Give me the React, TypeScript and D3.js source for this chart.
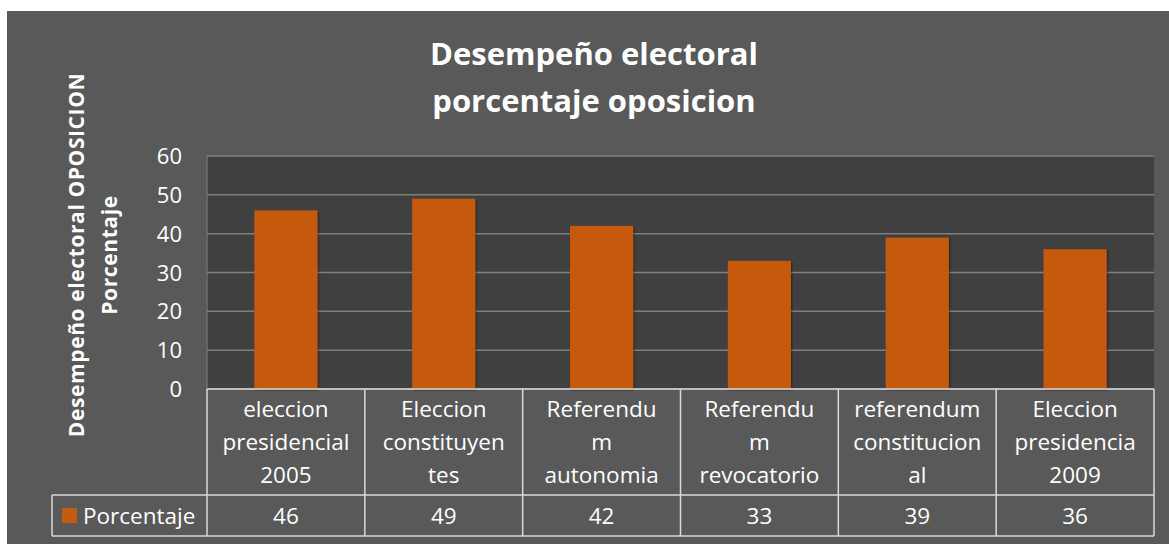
import React from "react";
import * as d3 from "d3";

const categories: string[][] = [
  ["eleccion", "presidencial", "2005"],
  ["Eleccion", "constituyen", "tes"],
  ["Referendu", "m", "autonomia"],
  ["Referendu", "m", "revocatorio"],
  ["referendum", "constitucion", "al"],
  ["Eleccion", "presidencia", "2009"],
];
const values: number[] = [46, 49, 42, 33, 39, 36];
const yTicks: number[] = [0, 10, 20, 30, 40, 50, 60];
const seriesName = "Porcentaje";
const titleLines = ["Desempeño electoral", "porcentaje oposicion"];
const yTitleLines = ["Desempeño electoral OPOSICION", "Porcentaje"];

const W = 1169;
const H = 544;
const font = "'Open Sans', Lato, sans-serif";

export default function App() {
  const left = 207;
  const right = 1154;
  const top = 156;
  const bottom = 389;
  const catRowBottom = 495;
  const valRowBottom = 536;
  const legendLeft = 52;

  const x = d3
    .scaleBand<number>()
    .domain(categories.map((_, i) => i))
    .range([left, right])
    .paddingInner(0)
    .paddingOuter(0);
  const y = d3.scaleLinear().domain([0, 60]).range([bottom, top]);
  const bw = x.bandwidth();
  const barW = bw * 0.4;

  const lineColor = "#d9d9d9";

  return (
    <div style={{ position: "fixed", left: 0, top: 0 }}>
      <svg width={W} height={H} style={{ display: "block" }}>
        <defs>
          <filter id="sh" x="-20%" y="-20%" width="140%" height="140%">
            <feDropShadow dx="1" dy="1" stdDeviation="1.2" floodColor="#000" floodOpacity="0.45" />
          </filter>
        </defs>
        <rect x={0} y={0} width={W} height={H} fill="#ffffff" />
        <rect x={7} y={11} width={W - 7} height={H - 11} fill="#595959" />
        <rect x={left} y={top} width={right - left} height={bottom - top} fill="#404040" />
        {yTicks.map((t) => (
          <line key={t} x1={left} x2={right} y1={y(t)} y2={y(t)} stroke="#7f7f7f" strokeWidth={1.5} />
        ))}
        <line x1={left} x2={left} y1={top} y2={bottom} stroke="#7f7f7f" strokeWidth={1} />
        {values.map((v, i) => (
          <rect
            key={i}
            x={(x(i) as number) + (bw - barW) / 2}
            y={y(v)}
            width={barW}
            height={y(0) - y(v)}
            fill="#c55a11"
            filter="url(#sh)"
          />
        ))}
        {yTicks.map((t) => (
          <text key={t} x={182} y={y(t) + 8} textAnchor="end" fill="#ffffff" fontFamily={font} fontSize={22}>
            {t}
          </text>
        ))}
        {/* Title */}
        {titleLines.map((l, i) => (
          <text
            key={i}
            x={594}
            y={65 + i * 47}
            textAnchor="middle"
            fill="#ffffff"
            fontFamily={font}
            fontWeight="bold"
            fontSize={31}
          >
            {l}
          </text>
        ))}
        {/* Y title */}
        {yTitleLines.map((l, i) => (
          <text
            key={i}
            transform={`translate(${84 + i * 33},255) rotate(-90)`}
            textAnchor="middle"
            fill="#ffffff"
            fontFamily={font}
            fontWeight="bold"
            fontSize={21}
            letterSpacing={0.6}
          >
            {l}
          </text>
        ))}
        {/* Data table */}
        <g stroke={lineColor} strokeWidth={1.5} fill="none">
          <line x1={left} x2={right} y1={bottom} y2={bottom} />
          <line x1={legendLeft} x2={right} y1={catRowBottom} y2={catRowBottom} />
          <line x1={legendLeft} x2={right} y1={valRowBottom} y2={valRowBottom} />
          <line x1={legendLeft} x2={legendLeft} y1={catRowBottom} y2={valRowBottom} />
          {categories.map((_, i) => (
            <line key={i} x1={x(i) as number} x2={x(i) as number} y1={bottom} y2={valRowBottom} />
          ))}
          <line x1={right} x2={right} y1={bottom} y2={valRowBottom} />
        </g>
        {categories.map((lines, i) =>
          lines.map((l, j) => (
            <text
              key={`${i}-${j}`}
              x={(x(i) as number) + bw / 2}
              y={417 + j * 33}
              textAnchor="middle"
              fill="#ffffff"
              fontFamily={font}
              fontSize={22.5}
            >
              {l}
            </text>
          ))
        )}
        {values.map((v, i) => (
          <text
            key={i}
            x={(x(i) as number) + bw / 2}
            y={524}
            textAnchor="middle"
            fill="#ffffff"
            fontFamily={font}
            fontSize={22.5}
          >
            {v}
          </text>
        ))}
        <rect x={62} y={508} width={15} height={15} fill="#c55a11" />
        <text x={83} y={524} fill="#ffffff" fontFamily={font} fontSize={22.5}>
          {seriesName}
        </text>
      </svg>
    </div>
  );
}
